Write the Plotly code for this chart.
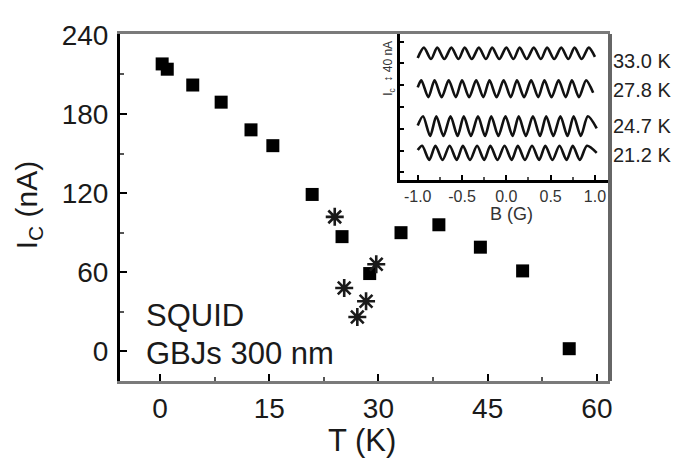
import plotly.graph_objects as go

# ---- main panel data ----
T_sq = [0.3, 1.0, 4.5, 8.4, 12.5, 15.5, 20.9, 25.0, 28.8, 33.1, 38.3, 44.0, 49.8, 56.2]
Ic_sq = [218, 214, 202, 189, 168, 156, 119, 87, 59, 90, 96, 79, 61, 2]
T_star = [24.0, 25.3, 27.1, 28.3, 29.7]
Ic_star = [102, 48, 26, 38, 66]

x_ticks = [0, 15, 30, 45, 60]
y_ticks = [0, 60, 120, 180, 240]

# ---- inset data: extrema of the oscillation curves (B in G, offset Ic in nA) ----
B_33 = [-1.00, -0.93, -0.85, -0.78, -0.70, -0.62, -0.54, -0.47, -0.39, -0.31, -0.23, -0.16, -0.08,
        0.00, 0.08, 0.15, 0.23, 0.31, 0.39, 0.46, 0.54, 0.62, 0.70, 0.77, 0.85, 0.93, 1.00]
I_33 = [224, 243, 222, 243, 222, 243, 222, 243, 222, 243, 222, 243, 222,
        243, 222, 243, 222, 243, 222, 243, 222, 243, 222, 243, 222, 243, 226]
B_278 = [-1.00, -0.96, -0.88, -0.81, -0.73, -0.65, -0.57, -0.50, -0.42, -0.34, -0.26, -0.19, -0.11,
         -0.03, 0.05, 0.12, 0.20, 0.28, 0.36, 0.43, 0.51, 0.59, 0.67, 0.74, 0.82, 0.90, 0.98]
I_278 = [170, 183, 152, 183, 152, 183, 152, 183, 152, 183, 152, 183, 152,
         183, 152, 183, 152, 183, 152, 183, 152, 183, 152, 183, 152, 183, 160]
B_247 = [-1.00, -0.94, -0.86, -0.79, -0.71, -0.63, -0.55, -0.48, -0.40, -0.32, -0.24, -0.17, -0.09,
         -0.01, 0.07, 0.14, 0.22, 0.30, 0.38, 0.45, 0.53, 0.61, 0.69, 0.76, 0.84, 0.92, 1.02]
I_247 = [100, 117, 81, 117, 81, 117, 81, 117, 81, 117, 81, 117, 81,
         117, 81, 117, 81, 117, 81, 117, 81, 117, 81, 117, 81, 117, 95]
B_212 = [-1.00, -0.95, -0.87, -0.80, -0.72, -0.64, -0.56, -0.49, -0.41, -0.33, -0.25, -0.18, -0.10,
         -0.02, 0.06, 0.13, 0.21, 0.29, 0.37, 0.44, 0.52, 0.60, 0.68, 0.75, 0.83, 0.91, 1.02]
I_212 = [55, 63, 37, 63, 37, 63, 37, 63, 37, 63, 37, 63, 37,
         63, 37, 63, 37, 63, 37, 63, 37, 63, 37, 63, 37, 63, 50]
inset_labels = ["33.0 K", "27.8 K", "24.7 K", "21.2 K"]
inset_xticks = [-1.0, -0.5, 0.0, 0.5, 1.0]

FONT = "Liberation Sans, Arial, sans-serif"
TXT = "#1a1a1a"

# plot area in screenshot pixels: x 120..610, y 22..380.7 (page body adds 8px offset)
PL, PR, PT, PB = 120.0, 610.0, 22.0, 380.7
def px(x):
    return (x - PL) / (PR - PL)
def py(y):
    return (PB - y) / (PB - PT)

fig = go.Figure()
fig.add_trace(go.Scatter(x=T_sq, y=Ic_sq, mode="markers",
                         marker=dict(symbol="square", size=13, color="black",
                                     line=dict(width=0)), showlegend=False))
fig.add_trace(go.Scatter(x=T_star, y=Ic_star, mode="markers",
                         marker=dict(symbol="asterisk-open", size=15, color="#1a1a1a",
                                     line=dict(width=2.6, color="#1a1a1a")), showlegend=False))

for B, I in [(B_33, I_33), (B_278, I_278), (B_247, I_247), (B_212, I_212)]:
    fig.add_trace(go.Scatter(x=B, y=I, mode="lines", xaxis="x2", yaxis="y2",
                             line=dict(color="#111111", width=2.6, shape="spline", smoothing=0.8),
                             showlegend=False))

fig.update_layout(
    width=675, height=454, autosize=False,
    margin=dict(l=112, r=73, t=14, b=81, pad=0),
    paper_bgcolor="white", plot_bgcolor="white",
    font=dict(family=FONT, color=TXT),
    xaxis=dict(domain=[0, 1], range=[-5.49, 61.8], tickvals=x_ticks,
               ticks="inside", ticklen=7, tickwidth=2, tickcolor="black",
               minor=dict(tick0=0, dtick=7.5, ticks="inside", ticklen=4, tickwidth=2, tickcolor="#555"),
               showgrid=False, zeroline=False, showline=True, linecolor="#7a7a7a",
               linewidth=3, mirror=True, ticklabeloverflow="allow",
               tickfont=dict(size=28, color=TXT, family=FONT)),
    yaxis=dict(domain=[0, 1], range=[-22.5, 240.7], tickvals=y_ticks,
               ticks="inside", ticklen=7, tickwidth=2, tickcolor="black",
               minor=dict(tick0=0, dtick=30, ticks="inside", ticklen=4, tickwidth=2, tickcolor="#555"),
               showgrid=False, zeroline=False, showline=True, linecolor="black",
               linewidth=3, mirror=False, ticklabelstandoff=3, ticklabeloverflow="allow",
               tickfont=dict(size=28, color=TXT, family=FONT)),
    xaxis2=dict(domain=[px(400), 1], anchor="y2", range=[-1.2, 1.17],
                tickvals=inset_xticks, ticktext=["-1.0", "-0.5", "0.0", "0.5", "1.0"],
                ticks="inside", ticklen=5, tickwidth=2, tickcolor="black",
                minor=dict(tick0=0, dtick=0.25, ticks="inside", ticklen=3, tickwidth=2, tickcolor="#555"),
                showgrid=False, zeroline=False, showline=True, linecolor="black", linewidth=3,
                ticklabeloverflow="allow",
                tickfont=dict(size=16, color="#333", family=FONT)),
    yaxis2=dict(domain=[py(173), 1], anchor="x2", range=[0, 268], dtick=40, tick0=14,
                ticks="inside", ticklen=4, tickwidth=2, tickcolor="black", showticklabels=False,
                showgrid=False, zeroline=False, showline=True, linecolor="black", linewidth=3),
    shapes=[dict(type="line", xref="paper", yref="paper", x0=1, x1=1, y0=0, y1=1,
                 line=dict(color="#666", width=4))],
)

ann = [
    dict(text="I<sub>C</sub> (nA)", x=px(28), y=py(199), textangle=-90, font=dict(size=30)),
    dict(text="T (K)", x=px(362), y=py(442), font=dict(size=31)),
    dict(text="SQUID", x=px(144), y=py(313), xanchor="left", font=dict(size=31)),
    dict(text="GBJs 300 nm", x=px(144), y=py(352), xanchor="left", font=dict(size=31)),
    dict(text="B (G)", x=px(511), y=py(208), font=dict(size=18, color="#333")),
    dict(text="I<sub>c</sub>  \u2195 40 nA", x=px(389), y=py(58), textangle=-90, font=dict(size=12, color="#333")),
]
for lab, yy in zip(inset_labels, [49.5, 80, 117, 147]):
    ann.append(dict(text=lab, x=px(611), y=py(yy), xanchor="left", font=dict(size=20, color="#222")))
for a in ann:
    a.setdefault("xref", "paper")
    a.setdefault("yref", "paper")
    a.setdefault("xanchor", "center")
    a.setdefault("yanchor", "middle")
    a["showarrow"] = False
fig.update_layout(annotations=ann)

fig.write_html("out.html")
